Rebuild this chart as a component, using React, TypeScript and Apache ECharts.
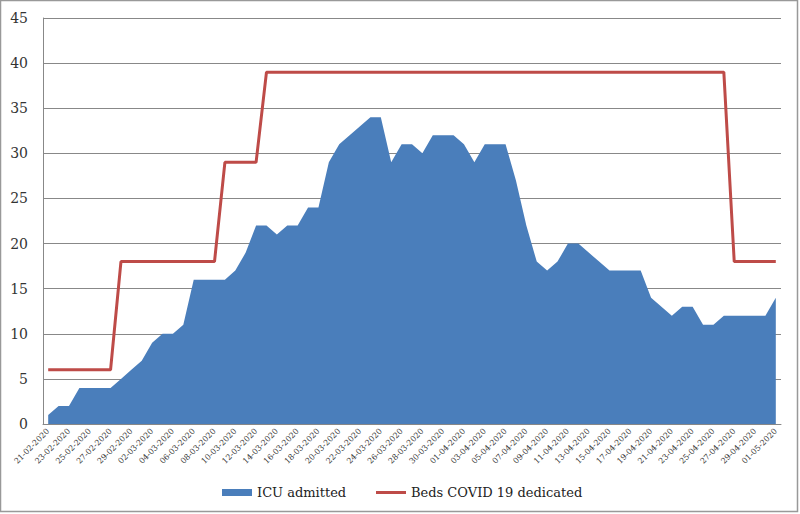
import React, { useEffect, useRef } from "react";
import * as echarts from "echarts";

const dates: string[] = [
  "21-02-2020", "22-02-2020", "23-02-2020", "24-02-2020", "25-02-2020", "26-02-2020", "27-02-2020", "28-02-2020", "29-02-2020",
  "01-03-2020", "02-03-2020", "03-03-2020", "04-03-2020", "05-03-2020", "06-03-2020", "07-03-2020", "08-03-2020", "09-03-2020", "10-03-2020",
  "11-03-2020", "12-03-2020", "13-03-2020", "14-03-2020", "15-03-2020", "16-03-2020", "17-03-2020", "18-03-2020", "19-03-2020", "20-03-2020",
  "21-03-2020", "22-03-2020", "23-03-2020", "24-03-2020", "25-03-2020", "26-03-2020", "27-03-2020", "28-03-2020", "29-03-2020", "30-03-2020", "31-03-2020",
  "01-04-2020", "02-04-2020", "03-04-2020", "04-04-2020", "05-04-2020", "06-04-2020", "07-04-2020", "08-04-2020", "09-04-2020", "10-04-2020",
  "11-04-2020", "12-04-2020", "13-04-2020", "14-04-2020", "15-04-2020", "16-04-2020", "17-04-2020", "18-04-2020", "19-04-2020", "20-04-2020",
  "21-04-2020", "22-04-2020", "23-04-2020", "24-04-2020", "25-04-2020", "26-04-2020", "27-04-2020", "28-04-2020", "29-04-2020", "30-04-2020",
  "01-05-2020",
];

const icuAdmitted: number[] = [
  1, 2, 2, 4, 4, 4, 4, 5, 6, 7,
  9, 10, 10, 11, 16, 16, 16, 16, 17, 19,
  22, 22, 21, 22, 22, 24, 24, 29, 31, 32,
  33, 34, 34, 29, 31, 31, 30, 32, 32, 32,
  31, 29, 31, 31, 31, 27, 22, 18, 17, 18,
  20, 20, 19, 18, 17, 17, 17, 17, 14, 13,
  12, 13, 13, 11, 11, 12, 12, 12, 12, 12,
  14,
];

const bedsDedicated: number[] = [
  6, 6, 6, 6, 6, 6, 6,
  18, 18, 18, 18, 18, 18, 18, 18, 18, 18,
  29, 29, 29, 29,
  39, 39, 39, 39, 39, 39, 39, 39, 39, 39,
  39, 39, 39, 39, 39, 39, 39, 39, 39, 39,
  39, 39, 39, 39, 39, 39, 39, 39, 39, 39,
  39, 39, 39, 39, 39, 39, 39, 39, 39, 39,
  39, 39, 39, 39, 39,
  18, 18, 18, 18, 18,
];

const FONT = "DejaVu Serif";
const BLUE = "#4A7EBB";
const RED = "#BE4B48";

export default function App() {
  const ref = useRef<HTMLDivElement>(null);
  useEffect(() => {
    if (!ref.current) return;
    const chart = echarts.init(ref.current, undefined, { renderer: "svg" });
    const legendText = { fontFamily: FONT, fontSize: 13, color: "#222" };
    chart.setOption({
      animation: false,
      backgroundColor: "#ffffff",
      textStyle: { fontFamily: FONT },
      grid: { left: 43, right: 19, top: 18, bottom: 90, containLabel: false },
      legend: [
        {
          left: 217,
          top: 481,
          itemWidth: 30,
          itemHeight: 7,
          itemGap: 0,
          textStyle: legendText,
          icon: "rect",
          data: ["ICU admitted"],
        },
        {
          left: 371,
          top: 481,
          itemWidth: 30,
          itemHeight: 3,
          itemGap: 0,
          textStyle: legendText,
          icon: "rect",
          data: ["Beds COVID 19 dedicated"],
        },
      ],
      xAxis: {
        type: "category",
        data: dates,
        boundaryGap: true,
        axisLine: { lineStyle: { color: "#888", width: 1 } },
        axisTick: { show: false },
        axisLabel: {
          interval: 1,
          rotate: 45,
          fontSize: 8,
          fontFamily: FONT,
          color: "#333",
          margin: 6,
        },
        splitLine: { show: false },
      },
      yAxis: {
        type: "value",
        min: 0,
        max: 45,
        interval: 5,
        axisLine: { show: true, lineStyle: { color: "#888", width: 1 } },
        axisTick: { show: false },
        axisLabel: { fontSize: 14, fontFamily: FONT, color: "#333", margin: 15 },
        splitLine: { lineStyle: { color: "#888", width: 1 } },
      },
      series: [
        {
          name: "ICU admitted",
          type: "line",
          data: icuAdmitted,
          symbol: "none",
          itemStyle: { color: BLUE },
          lineStyle: { width: 0, color: BLUE },
          areaStyle: { color: BLUE, opacity: 1 },
          z: 2,
        },
        {
          name: "Beds COVID 19 dedicated",
          type: "line",
          data: bedsDedicated,
          symbol: "none",
          itemStyle: { color: RED },
          lineStyle: { width: 3, color: RED },
          z: 3,
        },
      ],
      graphic: [
        {
          type: "rect",
          shape: { x: 0.5, y: 0.5, width: 797, height: 511 },
          style: { fill: "none", stroke: "#999", lineWidth: 1.5 },
          silent: true,
        },
      ],
    });
    return () => chart.dispose();
  }, []);
  return (
    <div
      ref={ref}
      style={{ position: "fixed", left: 0, top: 0, width: 800, height: 514 }}
    />
  );
}
